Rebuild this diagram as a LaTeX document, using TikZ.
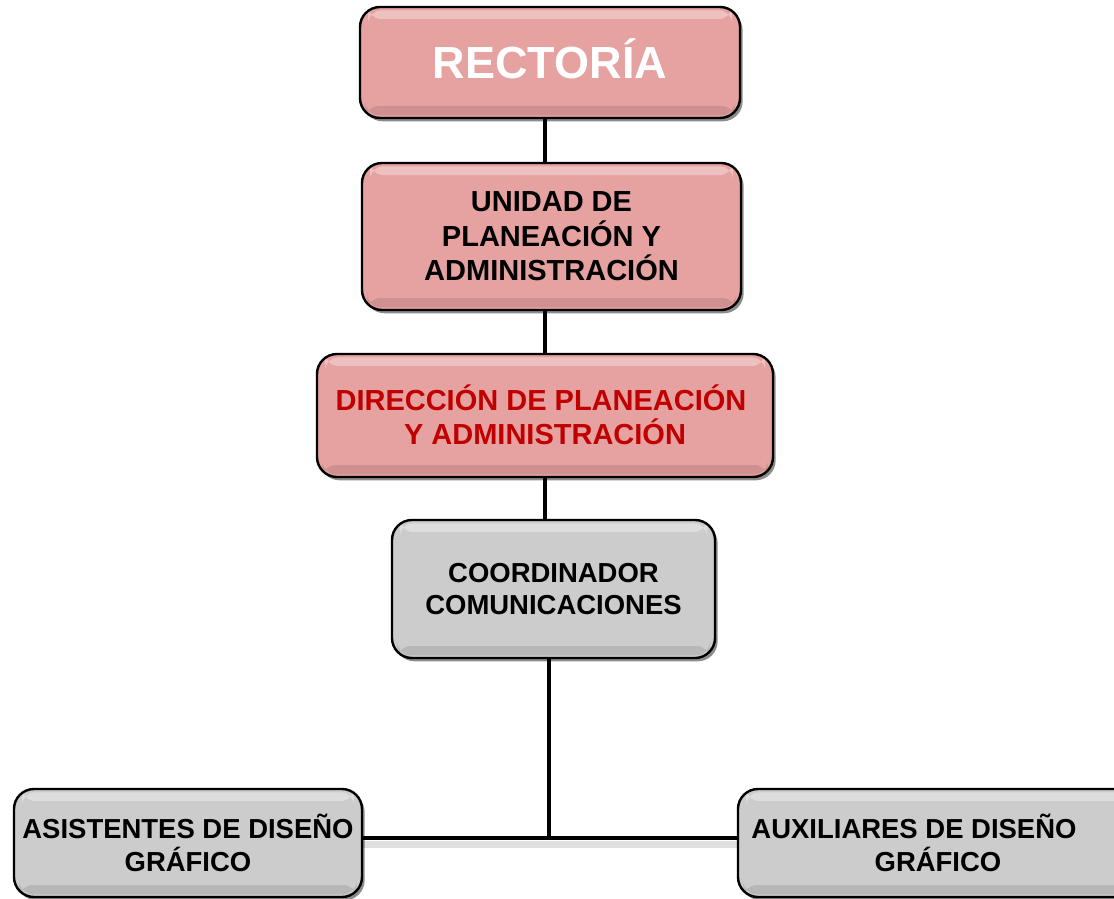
\documentclass[tikz,border=0pt]{standalone}
\usepackage{fontspec}
\setmainfont{Liberation Sans}
\usetikzlibrary{shadows}
\definecolor{pinkbox}{RGB}{230,161,161}
\definecolor{greybox}{RGB}{204,204,204}
\definecolor{redtext}{RGB}{192,0,0}
\begin{document}
\begin{tikzpicture}[x=0.75pt,y=-0.75pt,
  box/.style={draw=black, line width=1.8pt, rounded corners=15pt, inner sep=0pt, align=center,
    drop shadow={shadow xshift=2pt, shadow yshift=-2.5pt, fill=black, opacity=0.45},
    path picture={
      \fill[white,opacity=0.35,rounded corners=10pt]
        ([shift={(6pt,-2.5pt)}]path picture bounding box.north west) rectangle
        ([shift={(-6pt,-9pt)}]path picture bounding box.north east);
      \fill[black,opacity=0.10,rounded corners=10pt]
        ([shift={(4pt,2pt)}]path picture bounding box.south west) rectangle
        ([shift={(-4pt,9pt)}]path picture bounding box.south east);
    }},
  pinkb/.style={box, fill=pinkbox},
  greyb/.style={box, fill=greybox},
  midfont/.style={font=\fontsize{21.75pt}{25.9pt}\selectfont\bfseries},
  smallfont/.style={font=\fontsize{20.6pt}{24.5pt}\selectfont\bfseries},
  link/.style={line width=3pt, black},
  linkshadow/.style={line width=5pt, black, opacity=0.12},
]
\useasboundingbox (0,0) rectangle (1114,899);
\clip (0,0) rectangle (1114,899);

\node[pinkb, minimum width=285pt, minimum height=83.25pt, text height=24.2pt, text depth=0pt,
  font=\fontsize{33.75pt}{40pt}\selectfont\bfseries, text=white] (rect) at (550,62.5) {RECTORÍA};
\node[pinkb, minimum width=284.25pt, minimum height=110.25pt, midfont] (unidad) at (551.5,236.5)
  {UNIDAD DE\\PLANEACIÓN Y\\ADMINISTRACIÓN};
\node[pinkb, minimum width=342pt, minimum height=92.25pt, midfont, text=redtext] (dir) at (545,415.5)
  {\raisebox{1.5pt}{DIRECCIÓN DE PLANEACIÓN\kern6pt}\\\raisebox{1.5pt}{Y ADMINISTRACIÓN}};
\node[greyb, minimum width=242.25pt, minimum height=103.5pt, smallfont] (coord) at (553.5,589)
  {COORDINADOR\\COMUNICACIONES};
\node[greyb, minimum width=261pt, minimum height=81pt, smallfont] (asist) at (188,843)
  {ASISTENTES DE DISEÑO\\GRÁFICO};
\node[greyb, minimum width=300pt, minimum height=81pt, smallfont] (aux) at (938,843)
  {AUXILIARES DE DISEÑO\kern36pt\\GRÁFICO};

\coordinate (j) at (549,838);

\draw[link] (rect.south -| dir.center) -- (unidad.north -| dir.center);
\draw[link] (unidad.south -| dir.center) -- (dir.north -| dir.center);
\draw[link] (dir.south) -- (coord.north -| dir.center);
\draw[linkshadow] ([yshift=-5pt]asist.east |- j) -- ([yshift=-5pt]aux.west |- j);
\draw[link] (coord.south -| j) -- (j);
\draw[link] (asist.east |- j) -- (aux.west |- j);
\end{tikzpicture}
\end{document}
